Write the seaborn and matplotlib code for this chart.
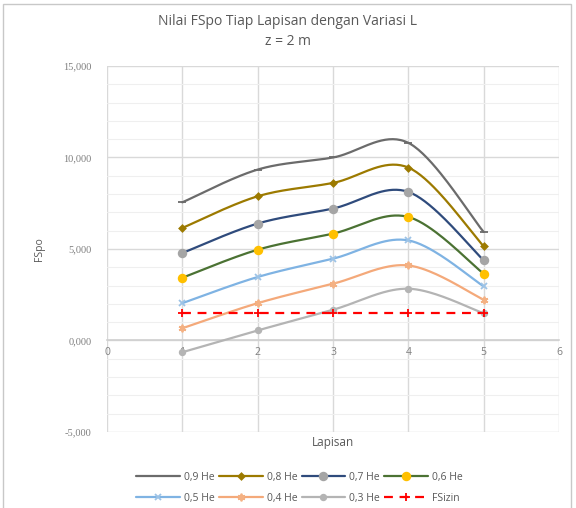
import numpy as np
import pandas as pd
import matplotlib
matplotlib.use("Agg")
import matplotlib.pyplot as plt
from matplotlib.lines import Line2D
from matplotlib.patches import Rectangle
from matplotlib.ticker import FuncFormatter, MultipleLocator
import seaborn as sns

# ---- data -------------------------------------------------------------
lapisan = [1, 2, 3, 4, 5]
he_09 = [7.55, 9.34, 10.00, 10.80, 5.93]
he_08 = [6.15, 7.88, 8.61, 9.45, 5.15]
he_07 = [4.78, 6.39, 7.21, 8.12, 4.38]
he_06 = [3.43, 4.96, 5.84, 6.75, 3.65]
he_05 = [2.04, 3.47, 4.47, 5.47, 2.96]
he_04 = [0.67, 2.04, 3.10, 4.10, 2.23]
he_03 = [-0.64, 0.55, 1.68, 2.83, 1.49]
fs_izin = [1.5, 1.5, 1.5, 1.5, 1.5]

series_names = ["0,9 He", "0,8 He", "0,7 He", "0,6 He",
                "0,5 He", "0,4 He", "0,3 He", "FSizin"]
series_values = [he_09, he_08, he_07, he_06, he_05, he_04, he_03, fs_izin]

# ---- styles -----------------------------------------------------------
styles = {
    "0,9 He": dict(color="#6b6b6b", marker="_", mfc="#6b6b6b", mec="#6b6b6b", ms=6, ls="-", smooth=True),
    "0,8 He": dict(color="#9c7a00", marker="D", mfc="#9c7a00", mec="#9c7a00", ms=3.2, ls="-", smooth=True),
    "0,7 He": dict(color="#2f4b7c", marker="o", mfc="#a5a5a5", mec="#a5a5a5", ms=5.5, ls="-", smooth=True),
    "0,6 He": dict(color="#4b7233", marker="o", mfc="#ffc000", mec="#ffc000", ms=5.5, ls="-", smooth=True),
    "0,5 He": dict(color="#7fb3e3", marker="x", mfc="#7fb3e3", mec="#9dc3e6", ms=4.5, ls="-", smooth=True),
    "0,4 He": dict(color="#f4a97a", marker=(6, 2, 0), mfc="#f4a97a", mec="#f4b183", ms=5.5, ls="-", smooth=True),
    "0,3 He": dict(color="#b4b4b4", marker="o", mfc="#b4b4b4", mec="#b4b4b4", ms=4, ls="-", smooth=True),
    "FSizin": dict(color="#ff0000", marker="+", mfc="#ff0000", mec="#ff0000", ms=6, ls=(0, (4, 3)), smooth=False),
}


def catmull_rom(x, y, n=40):
    """Smooth curve through the points (spreadsheet-style smoothed line)."""
    x = np.asarray(x, float)
    y = np.asarray(y, float)
    px = np.concatenate([[x[0]], x, [x[-1]]])
    py = np.concatenate([[y[0]], y, [y[-1]]])
    xs, ys = [], []
    for i in range(1, len(px) - 2):
        p0, p1, p2, p3 = (np.array([px[j], py[j]]) for j in range(i - 1, i + 3))
        c1 = p1 + (p2 - p0) / 6.0
        c2 = p2 - (p3 - p1) / 6.0
        t = np.linspace(0, 1, n)[:, None]
        b = ((1 - t) ** 3) * p1 + 3 * ((1 - t) ** 2) * t * c1 + 3 * (1 - t) * t ** 2 * c2 + t ** 3 * p2
        xs.append(b[:, 0])
        ys.append(b[:, 1])
    return np.concatenate(xs), np.concatenate(ys)


sns.set_theme(style="white")
plt.rcParams["font.family"] = ["Open Sans", "DejaVu Sans"]

fig = plt.figure(figsize=(5.76, 5.08), dpi=100)
fig.patches.append(Rectangle((0.006, -0.01), 0.985, 1.002, transform=fig.transFigure,
                             fill=False, edgecolor="#c8c8c8", lw=1.0))
ax = fig.add_axes([0.1858, 0.1496, 0.7847, 0.7205])

for name, vals in zip(series_names, series_values):
    st = styles[name]
    if st["smooth"]:
        sx, sy = catmull_rom(lapisan, vals)
    else:
        sx, sy = np.asarray(lapisan, float), np.asarray(vals, float)
    curve = pd.DataFrame({"x": sx, "y": sy})
    sns.lineplot(data=curve, x="x", y="y", ax=ax, color=st["color"], lw=1.6,
                 linestyle=st["ls"], sort=False, estimator=None, zorder=3)
    pts = pd.DataFrame({"x": lapisan, "y": vals})
    ax.plot(pts["x"], pts["y"], ls="none", marker=st["marker"], ms=st["ms"],
            mfc=st["mfc"], mec=st["mec"], mew=1.3, zorder=4)

ax.set_xlim(0, 6)
ax.set_ylim(-5, 15)
ax.xaxis.set_major_locator(MultipleLocator(1))
ax.yaxis.set_major_locator(MultipleLocator(5))
ax.yaxis.set_minor_locator(MultipleLocator(1))
ax.yaxis.set_major_formatter(FuncFormatter(lambda v, p: f"{v:.3f}".replace(".", ",")))
ax.grid(which="major", color="#d9d9d9", lw=1.0)
ax.grid(which="minor", axis="y", color="#efefef", lw=0.8)
ax.set_axisbelow(True)

for s in ["top", "right", "left"]:
    ax.spines[s].set_visible(False)
ax.spines["bottom"].set_position(("data", 0))
ax.spines["bottom"].set_color("#d0d0d0")
ax.spines["bottom"].set_linewidth(1.2)
ax.tick_params(axis="both", length=0, colors="#7f7f7f")
ax.tick_params(axis="x", labelsize=7.5, pad=5)
ax.tick_params(axis="y", labelsize=7.5, pad=11)
for lab in ax.get_yticklabels():
    lab.set_family(["Liberation Serif", "DejaVu Serif"])

ax.set_xlabel("")
ax.set_ylabel("FSpo", fontsize=7.5, color="#595959", labelpad=13)
fig.text(0.5786, 0.128, "Lapisan", ha="center", va="center", fontsize=8.5, color="#595959")
fig.text(0.5, 0.957, "Nilai FSpo Tiap Lapisan dengan Variasi L", ha="center", va="center",
         fontsize=10, color="#595959")
fig.text(0.5, 0.918, "z = 2 m", ha="center", va="center", fontsize=10, color="#595959")

handles = []
for name in series_names:
    st = styles[name]
    m = None if name == "0,9 He" else st["marker"]
    handles.append(Line2D([], [], color=st["color"], lw=1.6, linestyle=st["ls"], marker=m,
                          ms=st["ms"], mfc=st["mfc"], mec=st["mec"], mew=1.3))
# legend fills column by column; reorder so the entries read row by row
order = [0, 4, 1, 5, 2, 6, 3, 7]
fig.legend([handles[i] for i in order], [series_names[i] for i in order],
           loc="center", bbox_to_anchor=(0.52, 0.04), ncol=4,
           frameon=False, fontsize=7.5, labelcolor="#595959", handlelength=4.2,
           handletextpad=0.4, columnspacing=0.4, labelspacing=0.95)

fig.savefig("out.png", dpi=100)
